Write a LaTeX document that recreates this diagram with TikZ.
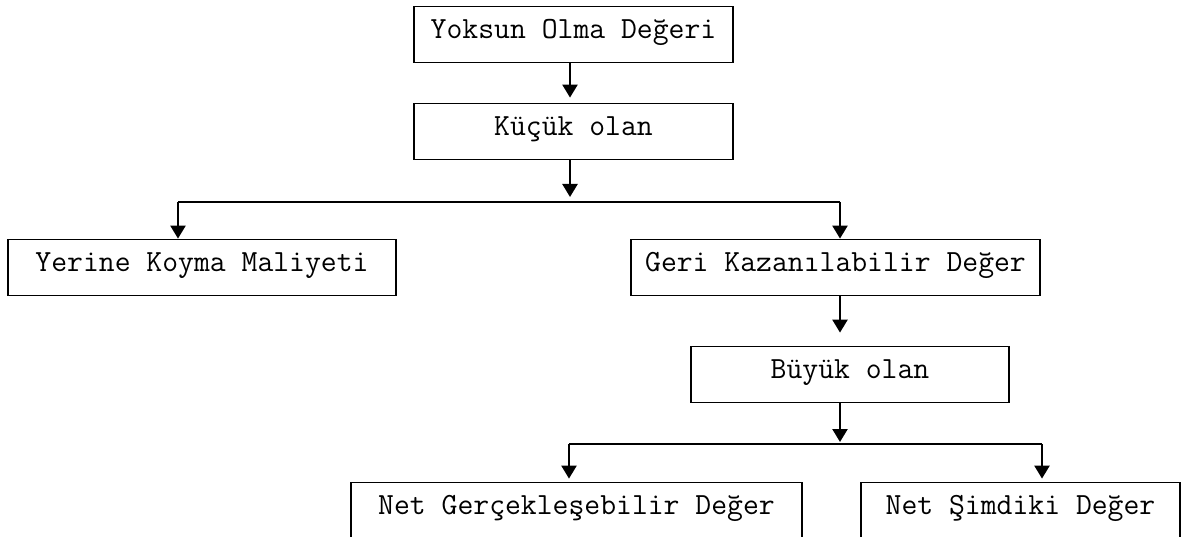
\documentclass[tikz,border=0pt]{standalone}
\usepackage{fontspec}
\usetikzlibrary{arrows.meta,positioning}

\tikzset{
    box/.style={draw, rectangle, line width=1.8pt, inner sep=0pt, minimum height=56pt,
        text height=15pt, text depth=7pt, font=\ttfamily\fontsize{30.8}{33}\selectfont},
    flow/.style={line width=2.4pt},
}

\begin{document}
\begin{tikzpicture}[x=1pt, y=-1pt, >={Triangle[length=13pt,width=15pt]}]
    \useasboundingbox (0,0) rectangle (1181,537);
    \clip (0,0) rectangle (1181,537);

    \node (yoksun) [box, minimum width=319pt] at (573.5,34.5) {Yoksun Olma Değeri};
    \node (kucuk) [box, minimum width=319pt] at (573.5,131.5) {Küçük olan};
    \node (yerine) [box, minimum width=388pt] at (202,267.5) {Yerine Koyma Maliyeti};
    \node (geri) [box, minimum width=409pt] at (835.5,267.5) {Geri Kazanılabilir Değer};
    \node (buyuk) [box, minimum width=318pt] at (850,374.5) {Büyük olan};
    \node (netger) [box, minimum width=451pt] at (576.5,510.5) {Net Gerçekleşebilir Değer};
    \node (netsim) [box, minimum width=319pt] at (1020.5,510.5) {Net Şimdiki Değer};

    % branch points
    \coordinate (split1) at (570,202);
    \coordinate (left1) at (178,202);
    \coordinate (right1) at (840,202);
    \coordinate (split2) at (840,444);
    \coordinate (left2) at (569,444);
    \coordinate (right2) at (1042,444);

    \draw [flow, ->, shorten >=5pt] (yoksun.south -| split1) -- (kucuk.north -| split1);
    \draw [flow, ->, shorten >=5pt] (kucuk.south -| split1) -- (split1);
    \draw [flow, line width=2pt] (left1) -- (right1);
    \draw [flow, ->] (left1) -- (yerine.north -| left1);
    \draw [flow, ->] (right1) -- (geri.north -| right1);

    \draw [flow, ->, shorten >=13pt] (geri.south -| right1) -- (buyuk.north -| right1);
    \draw [flow, ->, shorten >=2pt] (buyuk.south -| split2) -- (split2);
    \draw [flow, line width=2pt] (left2) -- (right2);
    \draw [flow, ->, shorten >=3pt] (left2) -- (netger.north -| left2);
    \draw [flow, ->, shorten >=3pt] (right2) -- (netsim.north -| right2);
\end{tikzpicture}
\end{document}
